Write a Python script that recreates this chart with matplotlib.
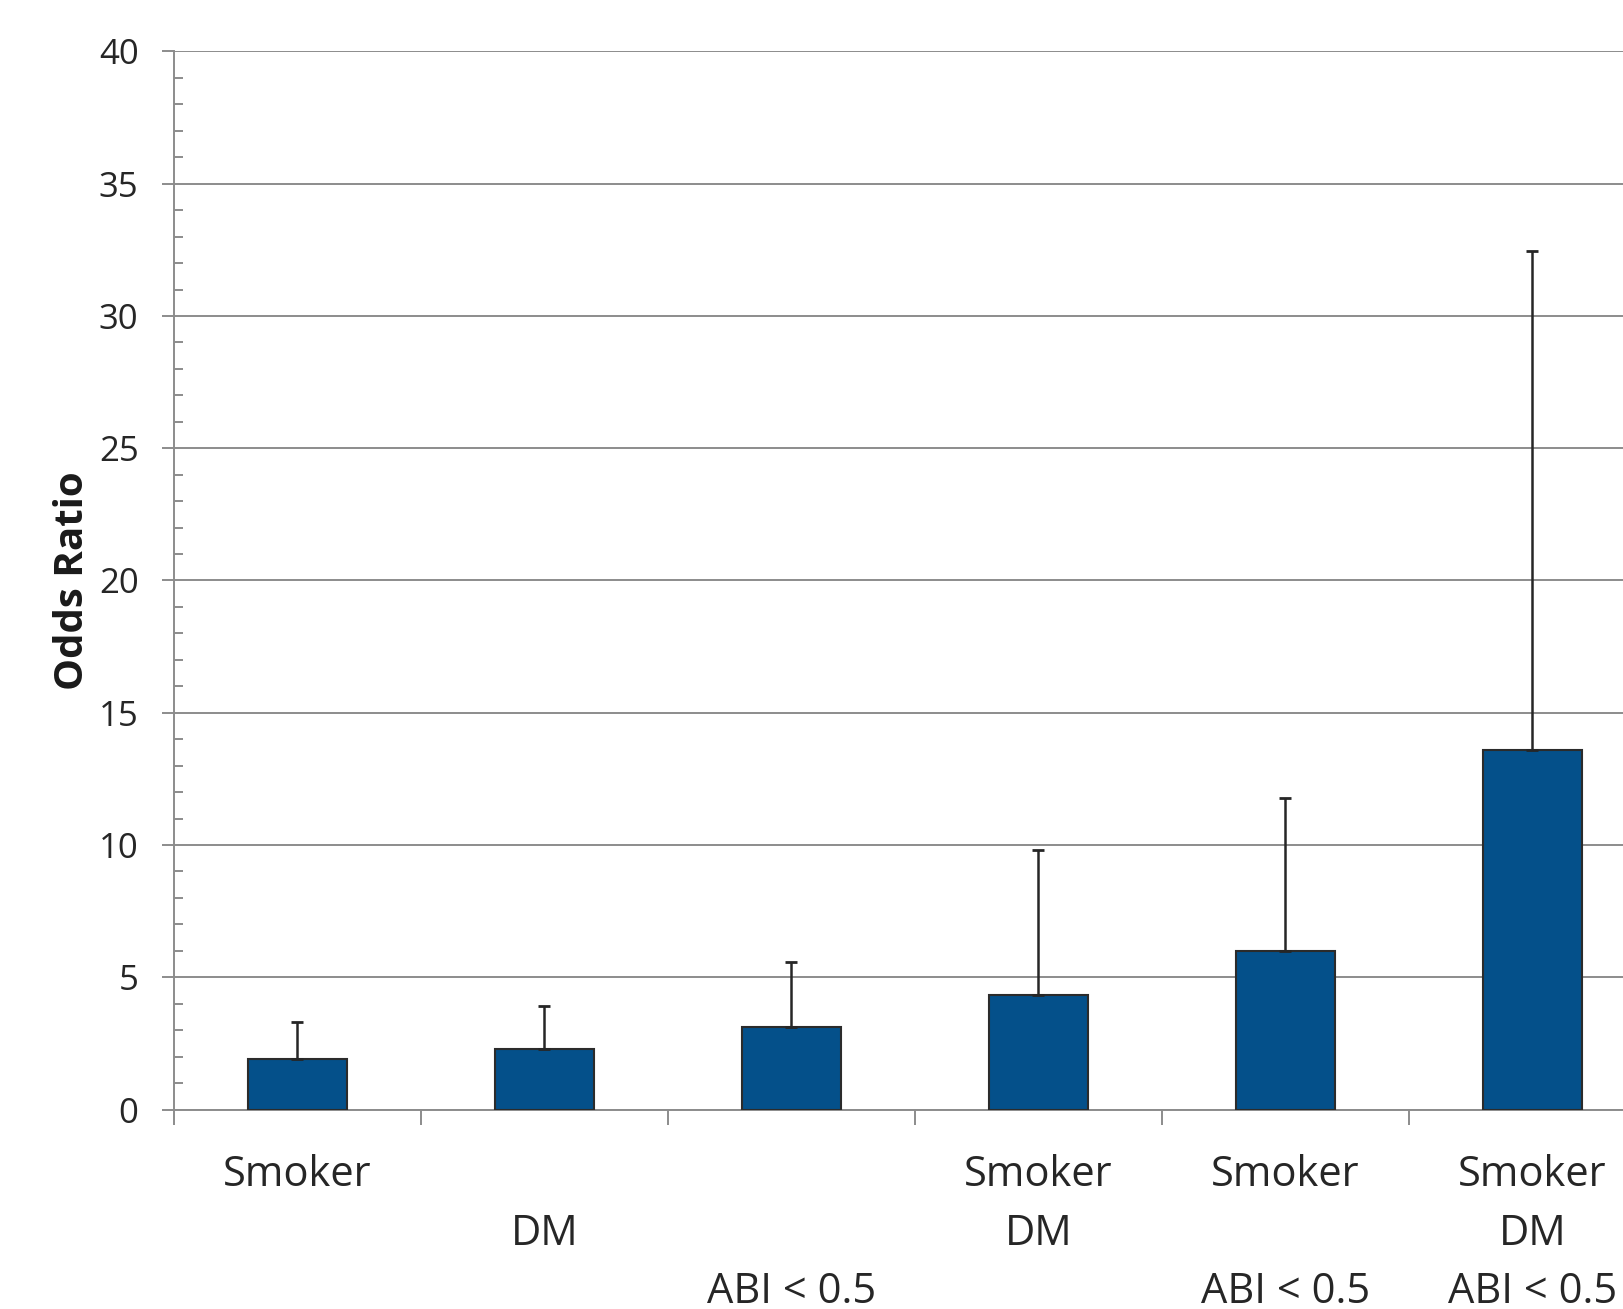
import numpy as np
import matplotlib
matplotlib.use('Agg')
import matplotlib.pyplot as plt
from matplotlib.ticker import MultipleLocator, FixedLocator

# Odds ratio per risk-factor group, with upper CI bound.
groups = ['Smoker', '\nDM', '\n\nABI < 0.5', 'Smoker\nDM',
          'Smoker\n\nABI < 0.5', 'Smoker\nDM\nABI < 0.5']
oddsRatio = [1.91, 2.27, 3.11, 4.32, 6.01, 13.6]
upperCI = [3.32, 3.92, 5.58, 9.81, 11.77, 32.45]

plt.rcParams['font.family'] = ['Open Sans', 'DejaVu Sans']

fig = plt.figure(figsize=(16.24, 13.09), dpi=100)
ax = fig.add_axes([0.1071, 0.1524, 0.9126, 0.8083])

grid = '#8c8c8c'
xaxis = np.arange(len(groups))
yerr = [np.zeros(len(oddsRatio)), np.array(upperCI) - np.array(oddsRatio)]

ax.bar(xaxis, oddsRatio, width=0.404, color='#04508a', edgecolor='#2b2b2b',
       linewidth=1.5, zorder=3)
ax.errorbar(xaxis, oddsRatio, yerr=yerr, fmt='none', ecolor='#262626',
            elinewidth=1.8, capsize=4.5, capthick=2.0, zorder=4)

ax.set_xlim(-0.5, len(groups) - 0.5)
ax.set_ylim(0, 40)

# y axis: major every 5 (out), minor every 1 (in)
ax.yaxis.set_major_locator(MultipleLocator(5))
ax.yaxis.set_minor_locator(MultipleLocator(1))
ax.tick_params(axis='y', which='major', direction='out', length=8.5,
               width=1.4, color=grid, labelsize=25, labelcolor='#262626',
               pad=17)
ax.tick_params(axis='y', which='minor', direction='in', length=6.5,
               width=1.4, color=grid)
ax.yaxis.grid(True, which='major', color=grid, linewidth=1.4, zorder=0)

# x axis: labels at bar centres, tick marks at slot boundaries
ax.set_xticks(xaxis)
ax.set_xticklabels(groups, linespacing=1.52, va='top')
ax.xaxis.set_minor_locator(FixedLocator(np.arange(-0.5, len(groups), 1.0)))
ax.tick_params(axis='x', which='major', length=0, labelsize=30,
               labelcolor='#262626', pad=32)
ax.tick_params(axis='x', which='minor', direction='out', length=10.5,
               width=1.4, color=grid)

for side in ['top', 'right']:
    ax.spines[side].set_visible(False)
for side in ['left', 'bottom']:
    ax.spines[side].set_color(grid)
    ax.spines[side].set_linewidth(1.4)

ax.set_ylabel('Odds Ratio', fontsize=29, fontweight='bold', color='#1a1a1a')
ax.yaxis.set_label_coords(-0.0555, 0.5)

fig.savefig('out.png', dpi=100)
